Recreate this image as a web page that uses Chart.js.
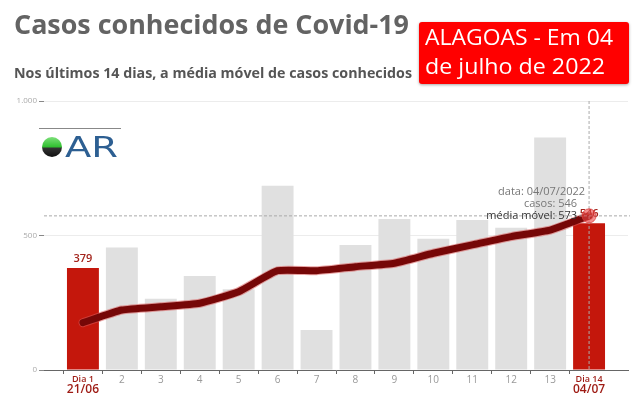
<!DOCTYPE html>
<html>
<head>
<meta charset="utf-8">
<script src="https://cdn.jsdelivr.net/npm/chart.js@4.4.1/dist/chart.umd.min.js"></script>
<style>
  html, body { margin: 0; padding: 0; background: #fff; }
  body { width: 640px; height: 407px; position: relative; overflow: hidden; font-family: 'Open Sans', sans-serif; }
  #wrap { position: absolute; left: 0; top: 0; width: 640px; height: 407px; }
  .fit { position: absolute; white-space: nowrap; transform-origin: 0 0; }
  .titulo { left: 14px; top: 5px; font-size: 27px; font-weight: 700; color: #636363; }
  .sub { left: 14px; top: 62px; font-size: 15px; font-weight: 700; color: #555; }
  .selo { position: absolute; left: 419px; top: 22px; width: 210px; height: 62px; background: #ff0000; border-radius: 3px;
          box-shadow: 0 1px 3px rgba(0,0,0,0.35); }
  .selo .fit { left: 6px; color: #fff; font-size: 21px; }
  .logo { position: absolute; left: 39px; top: 128px; width: 82px; height: 30px; border-top: 1px solid #888; }
  .bola { position: absolute; left: 3px; top: 8px; width: 20px; height: 20px; border-radius: 50%;
          background: linear-gradient(#7de07a 0%, #2fbf2f 50%, #333 55%, #111 100%); }
  .logo .fit { left: 26px; top: 2px; font-family: 'DejaVu Sans', sans-serif; font-size: 28px; color: #2d5f92; }
</style>
</head>
<body>
<div id="wrap"><canvas id="grafico"></canvas></div>
<div class="fit titulo" data-w="395">Casos conhecidos de Covid-19</div>
<div class="fit sub" data-w="398">Nos últimos 14 dias, a média móvel de casos conhecidos</div>
<div class="selo">
  <div class="fit" style="top:1px" data-w="188">ALAGOAS - Em 04</div>
  <div class="fit" style="top:30px" data-w="180">de julho de 2022</div>
</div>
<div class="logo"><div class="bola"></div><div class="fit" data-w="53">AR</div></div>
<script>
// dados
const dias = [1,2,3,4,5,6,7,8,9,10,11,12,13,14];
const datas = ['21/06','22/06','23/06','24/06','25/06','26/06','27/06','28/06','29/06','30/06','01/07','02/07','03/07','04/07'];
const casos = [379,455,265,349,300,685,149,465,561,488,558,529,864,546];
const mediaMovel = [176,223,235,248,291,369,369,384,397,434,465,496,520,573];

const vermelho = '#c4170c';
const cinza = '#e0e0e0';
const ultimo = dias.length - 1;

// ajusta largura dos textos
document.querySelectorAll('.fit').forEach(function(el) {
    let w = el.getBoundingClientRect().width;
    el.style.transform = 'scaleX(' + (parseFloat(el.dataset.w) / w) + ')';
});

function destaque(c) {
    return c.tick && (c.tick.value === 1 || c.tick.value === 14);
}

let ctx = document.getElementById('grafico');

let extras = {
    id: 'extras',
    afterDatasetsDraw: function(c) {
        let g = c.ctx;
        let xs = c.scales.x, ys = c.scales.y, area = c.chartArea;
        g.save();
        // rótulos das barras de destaque
        g.font = '600 11px "Open Sans"';
        g.textAlign = 'center';
        g.textBaseline = 'middle';
        g.fillStyle = '#a3231b';
        [0, ultimo].forEach(function(i) {
            g.fillText(casos[i], xs.getPixelForValue(dias[i]), ys.getPixelForValue(casos[i]) - 9);
        });
        // datas abaixo de "Dia 1" e "Dia 14"
        g.font = '600 12px "Open Sans"';
        g.fillStyle = '#9e1b14';
        [0, ultimo].forEach(function(i) {
            g.fillText(datas[i], xs.getPixelForValue(dias[i]), area.bottom + 20);
        });
        // linhas tracejadas do ponto em destaque
        let px = xs.getPixelForValue(dias[ultimo]);
        let py = ys.getPixelForValue(mediaMovel[ultimo]);
        g.strokeStyle = '#aaa';
        g.lineWidth = 1;
        g.setLineDash([3, 2]);
        g.beginPath();
        g.moveTo(area.left, py); g.lineTo(area.right + 2, py);
        g.moveTo(px, area.top); g.lineTo(px, area.bottom);
        g.stroke();
        g.setLineDash([]);
        // ponto
        g.fillStyle = 'rgba(235,70,70,0.6)';
        g.strokeStyle = 'rgba(220,60,60,0.8)';
        g.beginPath();
        g.arc(px, py, 7, 0, Math.PI * 2);
        g.fill(); g.stroke();
        // texto do tooltip
        g.font = '11px "Open Sans"';
        g.textAlign = 'right';
        g.fillStyle = '#777';
        g.fillText('data: 04/07/2022', px - 4, py - 24);
        g.fillText('casos: ' + casos[ultimo], px - 12, py - 12);
        g.fillStyle = '#333';
        g.fillText('média móvel: ' + mediaMovel[ultimo], px - 12, py);
        g.restore();
    }
};

let graficoCasos = new Chart(ctx, {
    type: 'bar',
    data: {
        datasets: [
            {
                type: 'line',
                data: dias.map((d, i) => ({x: d, y: mediaMovel[i]})),
                borderColor: '#760707',
                borderWidth: 7,
                tension: 0.15,
                pointRadius: 0,
                borderCapStyle: 'round',
                borderJoinStyle: 'round',
                order: 0
            },
            {
                // contorno claro da linha
                type: 'line',
                data: dias.map((d, i) => ({x: d, y: mediaMovel[i]})),
                borderColor: 'rgba(215,90,90,0.55)',
                borderWidth: 9,
                tension: 0.15,
                pointRadius: 0,
                borderCapStyle: 'round',
                borderJoinStyle: 'round',
                order: 1
            },
            {
                data: dias.map((d, i) => ({x: d, y: casos[i]})),
                backgroundColor: dias.map((d, i) => (i === 0 || i === ultimo) ? vermelho : cinza),
                barPercentage: 0.82,
                categoryPercentage: 1,
                order: 2
            }
        ]
    },
    options: {
        responsive: true,
        maintainAspectRatio: false,
        animation: false,
        layout: { padding: { top: 101, right: 12, left: 0, bottom: 0 } },
        plugins: { legend: { display: false }, tooltip: { enabled: false } },
        scales: {
            x: {
                type: 'linear',
                offset: false,
                min: 0,
                max: 15,
                afterFit: function(s) { s.height = 37; },
                grid: {
                    display: true,
                    drawOnChartArea: false,
                    tickLength: 4,
                    tickColor: function(c) { return (c.tick && c.tick.value > 0 && c.tick.value < 15) ? '#666' : 'rgba(0,0,0,0)'; }
                },
                border: { display: true, color: '#666', width: 1 },
                ticks: {
                    stepSize: 1,
                    autoSkip: false,
                    maxRotation: 0,
                    padding: 0,
                    callback: function(v) {
                        if (v === 1) return 'Dia 1';
                        if (v === 14) return 'Dia 14';
                        return (v > 0 && v < 15) ? String(v) : '';
                    },
                    color: function(c) { return destaque(c) ? '#9e1b14' : '#999'; },
                    font: function(c) { return destaque(c) ? {family: 'Open Sans', size: 9, weight: '600'} : {family: 'Open Sans', size: 10}; }
                }
            },
            y: {
                min: 0,
                max: 1000,
                afterFit: function(s) { s.width = 44; },
                border: { display: false },
                grid: {
                    color: function(c) { return c.tick && c.tick.value === 0 ? 'rgba(0,0,0,0)' : '#ececec'; },
                    tickColor: '#888',
                    tickLength: 5
                },
                ticks: {
                    stepSize: 500,
                    color: '#aaa',
                    padding: 2,
                    font: { family: 'Open Sans', size: 8 },
                    callback: function(v) { return v === 1000 ? '1.000' : String(v); }
                }
            }
        }
    },
    plugins: [extras]
});
</script>
</body>
</html>
